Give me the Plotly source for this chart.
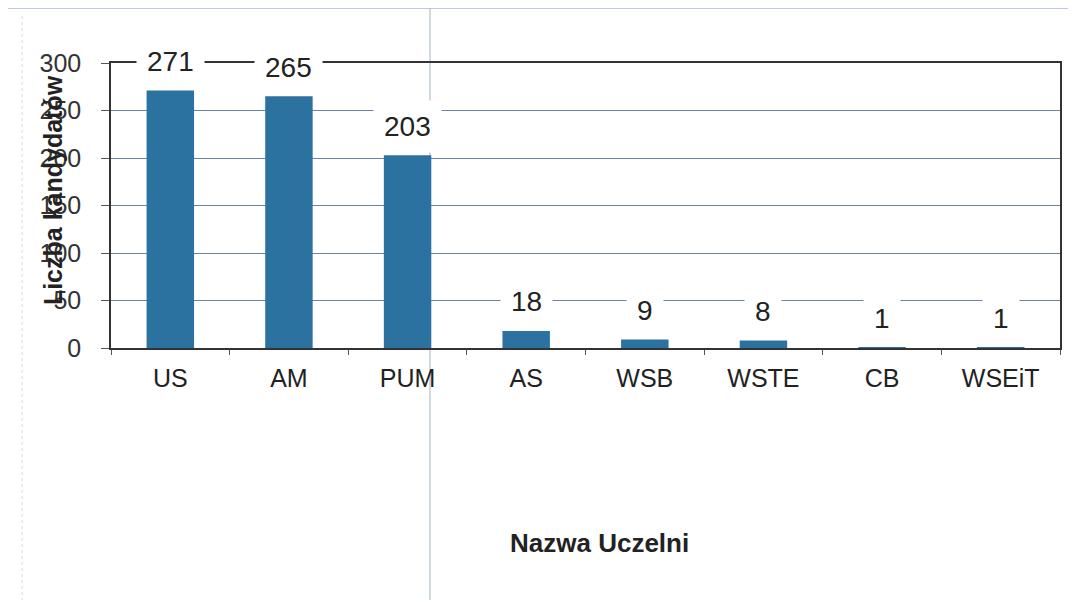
import plotly.graph_objects as go

categories = ["US", "AM", "PUM", "AS", "WSB", "WSTE", "CB", "WSEiT"]
values = [271, 265, 203, 18, 9, 8, 1, 1]
y_ticks = [0, 50, 100, 150, 200, 250, 300]

FONT = "Liberation Sans, Arial, sans-serif"
BAR = "#2b72a0"
GRID = "#6a84a3"

# plot area in figure pixels
L, T, PW, PH = 103, 55, 949, 285
W, H = 1076, 600


def px(xpix):
    return (xpix - L) / PW


def py(ypix):
    return (T + PH - ypix) / PH


fig = go.Figure()
fig.add_trace(go.Bar(x=categories, y=values, marker=dict(color=BAR, line=dict(width=0)),
                     hoverinfo="x+y"))

annotations = []
for c, v in zip(categories, values):
    annotations.append(dict(x=c, y=v, xref="x", yref="y", text=str(v), showarrow=False,
                            yshift=29, yanchor="middle",
                            font=dict(family=FONT, size=28, color="#222"),
                            bgcolor="white", borderpad=10))
annotations.append(dict(x=0, y=0.554, xref="paper", yref="paper", text="<b>Liczba kandydatów</b>",
                        textangle=-90, showarrow=False, xshift=-58, xanchor="center", yanchor="middle",
                        font=dict(family=FONT, size=25, color="#222")))
annotations.append(dict(x=0.5, y=0, xref="paper", yref="paper", text="<b>Nazwa Uczelni</b>",
                        showarrow=False, xshift=14, yshift=-195, xanchor="center", yanchor="middle",
                        font=dict(family=FONT, size=26, color="#222")))

shapes = [
    dict(type="line", xref="paper", yref="paper", x0=px(422), x1=px(422),
         y0=py(0), y1=py(H), line=dict(color="#c4ccd8", width=1.5), layer="below"),
    dict(type="line", xref="paper", yref="paper", x0=px(0), x1=px(W),
         y0=py(0), y1=py(0), line=dict(color="#a9b8d6", width=1.5), layer="below"),
    dict(type="line", xref="paper", yref="paper", x0=px(14), x1=px(14),
         y0=py(8), y1=py(H), line=dict(color="#d6dbe2", width=1, dash="dot"), layer="below"),
]

fig.update_layout(
    width=W, height=H,
    margin=dict(l=L, r=W - L - PW, t=T, b=H - T - PH),
    paper_bgcolor="white", plot_bgcolor="white",
    bargap=0.6,
    showlegend=False,
    annotations=annotations,
    shapes=shapes,
    xaxis=dict(type="category", showline=True, linecolor="#333", linewidth=1.5, mirror=True,
               ticks="outside", ticklen=5, tickcolor="#555", tickson="boundaries",
               tickfont=dict(family=FONT, size=25, color="#222"), ticklabelstandoff=7,
               showgrid=False),
    yaxis=dict(range=[0, 300], tickvals=y_ticks, showline=True, linecolor="#333", linewidth=1.5,
               mirror=True, ticks="outside", ticklen=8, tickcolor="#555",
               tickfont=dict(family=FONT, size=25, color="#333"), ticklabelstandoff=15,
               showgrid=True, gridcolor=GRID, gridwidth=1, zeroline=False),
)

fig.write_html("out.html")
